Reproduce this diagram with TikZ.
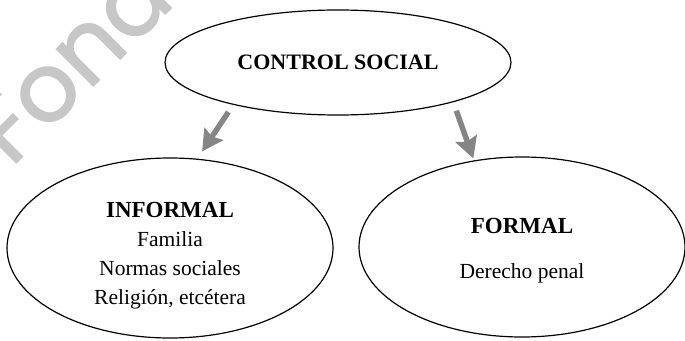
\documentclass[tikz,border=0pt]{standalone}
\usepackage{fontspec}
\setmainfont{Liberation Serif}
\newfontfamily\marcafont[FakeBold=1.5]{Poppins}
\usetikzlibrary{shapes.geometric,arrows.meta}
\begin{document}
\begin{tikzpicture}[x=1pt,y=-1pt,
        ovalo/.style={draw, ellipse, line width=1.2pt, inner sep=0pt},
        texto/.style={align=center, inner sep=0pt, font=\fontsize{21.5}{29}\selectfont},
        flecha/.style={draw=black!48, line width=5.5pt, -{Stealth[length=21pt,width=22pt,inset=3pt]}}]
        \useasboundingbox (0,0) rectangle (685,340);
        \clip (0,0) rectangle (685,340);
        % marca de agua
        \node[rotate=45, anchor=base west, text=black!22, inner sep=0pt,
            font=\marcafont\fontsize{95}{95}\selectfont] (marca) at (11,168) {Fondo};
        \pgfmathsetmacro\anchosup{346}
        \pgfmathsetmacro\altosup{105}
        \pgfmathsetmacro\anchoinf{326}
        \pgfmathsetmacro\altoinf{180}
        \node[ovalo, minimum width=\anchosup pt, minimum height=\altosup pt,
            font=\bfseries\fontsize{22}{25}\selectfont] (control) at (338,62.5) {CONTROL SOCIAL};
        \node[ovalo, minimum width=\anchoinf pt, minimum height=\altoinf pt] (informal) at (170,248) {};
        \node[ovalo, minimum width=\anchoinf pt, minimum height=\altoinf pt] (formal) at (522,247) {};
        \node[texto, yshift=-8pt] (informal-texto) at (informal.center)
            {{\bfseries\fontsize{23}{29}\selectfont INFORMAL}\\Familia\\Normas sociales\\Religión, etcétera};
        \node[texto, yshift=-4pt] (formal-texto) at (formal.center)
            {{\bfseries\fontsize{23}{29}\selectfont FORMAL}\\[16pt]Derecho penal};
        \draw[flecha, shorten <=8.6pt, shorten >=8.6pt] (control.202.8) -- (informal.73.5);
        \draw[flecha, shorten <=9pt, shorten >=2pt] (control.341.2) -- (formal.119);
    \end{tikzpicture}
\end{document}
